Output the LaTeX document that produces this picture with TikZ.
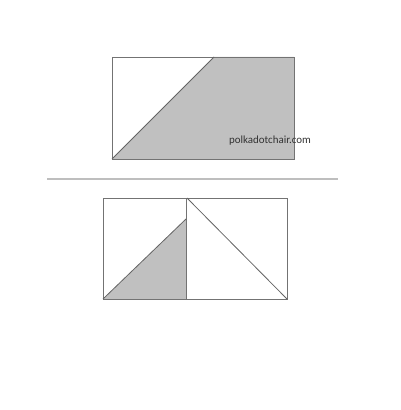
\documentclass[tikz,border=0pt]{standalone}
\usepackage{fontspec}
\newfontfamily\wmfont{Carlito}

\begin{document}
\begin{tikzpicture}[x=0.75pt,y=0.75pt,yscale=-1,xscale=1]
\useasboundingbox (0,0) rectangle (400,410);

%Shape: Top Block Fill
\draw [draw opacity=0][fill={rgb, 255:red, 192; green, 192; blue, 192 }  ,fill opacity=1 ]   (112,159) -- (214,57) -- (294,57) -- (294,159) -- cycle ;
%Shape: Top Block Rectangle
\draw [color={rgb, 255:red, 115; green, 115; blue, 115 }  ,draw opacity=1 ][line width=0.6]   (112,57) -- (294,57) -- (294,159) -- (112,159) -- cycle ;
%Straight Lines
\draw [color={rgb, 255:red, 100; green, 100; blue, 100 }  ,draw opacity=1 ][line width=0.6]   (112,159) -- (214,57) ;

% Text Node
\draw (270,141) node [inner sep=0.75pt]  [color={rgb, 255:red, 50; green, 50; blue, 50 }  ,opacity=1 ] (wm) {\wmfont\fontsize{8.2}{9}\selectfont polkadotchair.com};

%Straight Lines
\draw [color={rgb, 255:red, 190; green, 190; blue, 190 }  ,draw opacity=1 ][line width=1]   (47,179) -- (338,179) ;

%Shape: Bottom Left Triangle Fill
\draw [draw opacity=0][fill={rgb, 255:red, 192; green, 192; blue, 192 }  ,fill opacity=1 ]   (103,299) -- (186,219) -- (186,299) -- cycle ;
%Shape: Bottom Left Square
\draw [color={rgb, 255:red, 115; green, 115; blue, 115 }  ,draw opacity=1 ][line width=0.6]   (103,198) -- (186,198) -- (186,299) -- (103,299) -- cycle ;
%Shape: Bottom Right Square
\draw [color={rgb, 255:red, 115; green, 115; blue, 115 }  ,draw opacity=1 ][line width=0.6]   (186,198) -- (287,198) -- (287,299) -- (186,299) -- cycle ;
%Straight Lines
\draw [color={rgb, 255:red, 100; green, 100; blue, 100 }  ,draw opacity=1 ][line width=0.6]   (103,299) -- (186,219) ;
%Straight Lines
\draw [color={rgb, 255:red, 100; green, 100; blue, 100 }  ,draw opacity=1 ][line width=0.6]   (187,198) -- (287,299) ;

\end{tikzpicture}
\end{document}
